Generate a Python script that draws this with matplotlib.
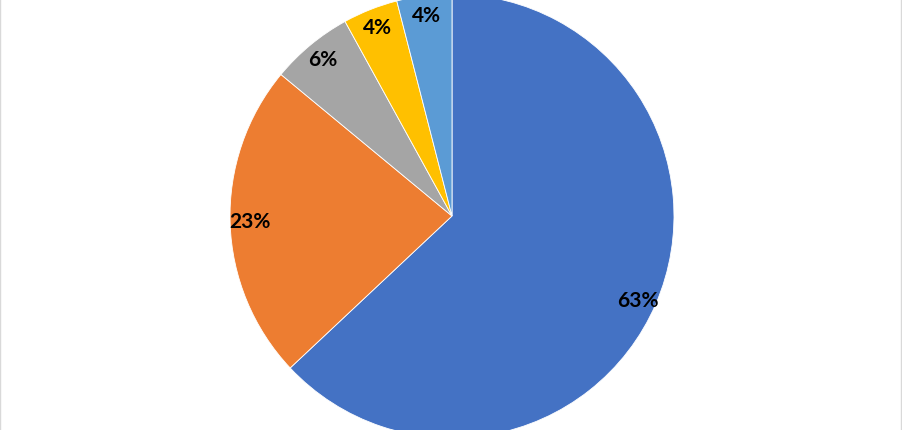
import matplotlib
matplotlib.use("Agg")
import matplotlib.pyplot as plt
from matplotlib.lines import Line2D

# slice data, clockwise from 12 o'clock
shares = [63, 23, 6, 4, 4]
colors = ["#4472C4", "#ED7D31", "#A5A5A5", "#FFC000", "#5B9BD5"]

W, H = 903, 430
fig = plt.figure(figsize=(W / 100, H / 100), dpi=100)
fig.patch.set_facecolor("white")

# pie centre (452, 216) px from top-left, radius 222 px
cx, cy, r = 452, 216, 222
ax = fig.add_axes([(cx - r) / W, (H - cy - r) / H, 2 * r / W, 2 * r / H])

wedges, texts, autotexts = ax.pie(
    shares,
    colors=colors,
    startangle=90,
    counterclock=False,
    autopct="%1.0f%%",
    pctdistance=0.91,
    wedgeprops=dict(edgecolor="white", linewidth=0.6),
    textprops=dict(fontsize=15, fontweight="bold", color="black",
                   family=["Lato", "DejaVu Sans"]),
)
for w in wedges:
    w.set_clip_on(False)
# the big slice's label sits a little lower in the source
x, y = autotexts[0].get_position()
autotexts[0].set_position((x, y - 0.02))
ax.set_xlim(-1, 1)
ax.set_ylim(-1, 1)
ax.set_aspect("equal")
ax.axis("off")

# faint chart border on the sides
for x in (0.5 / W, 901.5 / W):
    fig.add_artist(Line2D([x, x], [0, 1], color="#D9D9D9", linewidth=1,
                          transform=fig.transFigure))

fig.savefig("out.png", dpi=100, facecolor="white")
